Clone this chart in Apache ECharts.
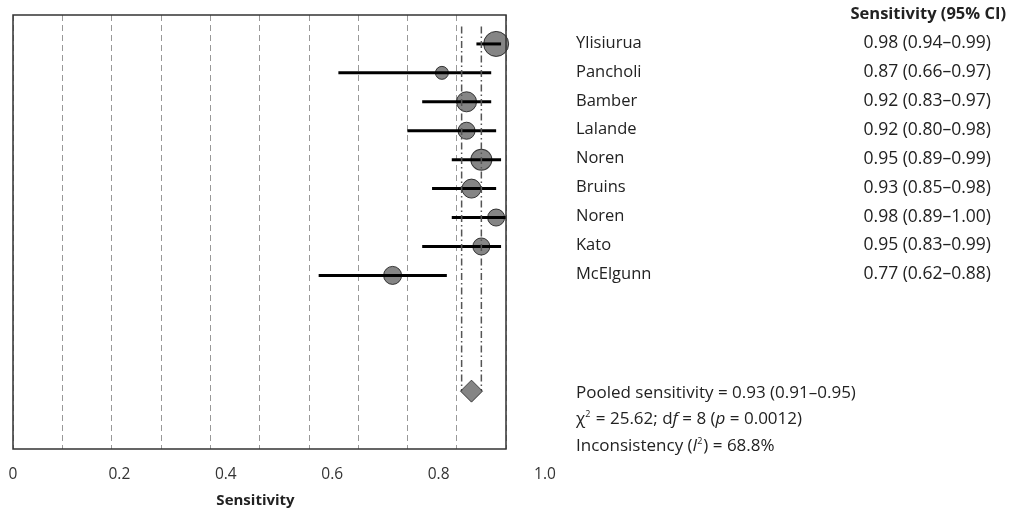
<!DOCTYPE html>
<html><head><meta charset="utf-8">
<script src="https://cdn.jsdelivr.net/npm/echarts@6/dist/echarts.min.js"></script>
<style>html,body{margin:0;padding:0;background:#fff}#c{width:1012px;height:513px}</style>
</head><body><div id="c"></div>
<script>
var studies = ['Ylisiurua','Pancholi','Bamber','Lalande','Noren','Bruins','Noren','Kato','McElgunn'];
var sens = [0.98,0.87,0.92,0.92,0.95,0.93,0.98,0.95,0.77];
var ciLow = [0.94,0.66,0.83,0.80,0.89,0.85,0.89,0.83,0.62];
var ciHigh = [0.99,0.97,0.97,0.98,0.99,0.98,1.00,0.99,0.88];
var weights = [19.6,5.3,12.6,9.1,13.8,11.3,9.1,9.1,10.2];
var pooledEst = 0.93, pooledLow = 0.91, pooledHigh = 0.95;
var tickLabels = [0,0.2,0.4,0.6,0.8,1.0];
var chiSq = '25.62', df = '8', pVal = '0.0012', iSq = '68.8%';

var FONT = '"Open Sans", "Noto Sans", sans-serif';
var chart = echarts.init(document.getElementById('c'), null, {renderer:'canvas'});
var rows = studies.map(function(s,i){return i+1;});
var pooledRow = 13;

var ciData = studies.map(function(s,i){return [ciLow[i], ciHigh[i], rows[i]];});
var ptData = studies.map(function(s,i){return [sens[i], rows[i], weights[i]];});

var option = {
  animation:false,
  grid:[
    {left:13, top:15, width:493, height:434, show:true, borderColor:'#333', borderWidth:1.5, backgroundColor:'transparent', z:10, outerBoundsMode:'none', containLabel:false},
    {left:13, top:15, width:532, height:434, show:false, outerBoundsMode:'none', containLabel:false}
  ],
  xAxis:[
    {gridIndex:0, type:'value', min:0, max:1, interval:0.1,
     axisLine:{show:false}, axisTick:{show:false}, axisLabel:{show:false},
     splitLine:{show:true, lineStyle:{color:'#999', type:[6,4], width:1}},
     name:'Sensitivity', nameLocation:'middle', nameGap:44,
     nameTextStyle:{fontFamily:FONT, fontWeight:'bold', fontSize:15, color:'#222', padding:[0,8,0,0]}},
    {gridIndex:1, type:'value', min:0, max:1, interval:0.2,
     axisLine:{show:false}, axisTick:{show:false}, splitLine:{show:false},
     axisLabel:{show:true, margin:18, fontFamily:FONT, fontSize:15.5, color:'#333',
       formatter:function(v){ if(v===0) return '0'; return v.toFixed(1);} }}
  ],
  yAxis:[
    {gridIndex:0, type:'value', min:0, max:15, inverse:true, show:false},
    {gridIndex:1, type:'value', min:0, max:15, inverse:true, show:false}
  ],
  series:[
    {type:'scatter', xAxisIndex:0, yAxisIndex:0, data:ptData, z:3,
     symbol:'circle', symbolSize:function(d){return Math.sqrt(d[2])*5.65;},
     itemStyle:{color:'#666', borderColor:'#111', borderWidth:1}},
    {type:'custom', xAxisIndex:0, yAxisIndex:0, data:ciData, z:4,
     renderItem:function(params, api){
       var a = api.coord([api.value(0), api.value(2)]);
       var b = api.coord([api.value(1), api.value(2)]);
       return {type:'line', shape:{x1:a[0],y1:a[1],x2:b[0],y2:b[1]}, style:{stroke:'#000', lineWidth:3}};
     }},
    {type:'custom', xAxisIndex:0, yAxisIndex:0, data:[[pooledLow],[pooledHigh]], z:5,
     renderItem:function(params, api){
       var a = api.coord([api.value(0), 0.4]);
       var b = api.coord([api.value(0), pooledRow]);
       return {type:'line', shape:{x1:a[0],y1:a[1],x2:b[0],y2:b[1]}, style:{stroke:'#555', lineWidth:1.5, lineDash:[7,3,1.5,3]}};
     }},
    {type:'scatter', xAxisIndex:0, yAxisIndex:0, data:[[pooledEst, pooledRow]], z:6,
     symbol:'diamond', symbolSize:[22,22],
     itemStyle:{color:'#666', borderColor:'#222', borderWidth:1}}
  ]
};
chart.setOption(option);

var g = [];
var TXT = '#222';
var NAMEF = '16.5px '+FONT, VALF = '17.5px '+FONT;
g.push({type:'text', right:6, top:6, style:{text:'Sensitivity (95% CI)', font:'bold 16.5px '+FONT, fill:TXT}});
studies.forEach(function(s,i){
  var y = chart.convertToPixel({xAxisIndex:0, yAxisIndex:0}, [0, rows[i]])[1];
  g.push({type:'text', x:576, y:y-1, style:{text:s, font:NAMEF, fill:TXT, verticalAlign:'middle', align:'left'}});
  var lab = sens[i].toFixed(2)+' ('+ciLow[i].toFixed(2)+'\u2013'+ciHigh[i].toFixed(2)+')';
  g.push({type:'text', x:991, y:y-1, style:{text:lab, font:VALF, fill:TXT, verticalAlign:'middle', align:'right'}});
});
var rich = {sup:{fontSize:9, fontFamily:FONT, fill:TXT, padding:[0,1,9,0]}, it:{fontSize:17, fontStyle:'italic', fontFamily:FONT, fill:TXT}};
g.push({type:'text', x:576, y:393, style:{text:'Pooled sensitivity = '+pooledEst.toFixed(2)+' ('+pooledLow.toFixed(2)+'\u2013'+pooledHigh.toFixed(2)+')', font:'17px '+FONT, fill:TXT, verticalAlign:'middle'}});
g.push({type:'text', x:576, y:419, style:{
  text:'\u03c7{sup|2} = '+chiSq+'; d{it|f} = '+df+' ({it|p} = '+pVal+')',
  font:'17px '+FONT, fill:TXT, verticalAlign:'middle', rich:rich}});
g.push({type:'text', x:576, y:446, style:{
  text:'Inconsistency ({it|I}{sup|2}) = '+iSq,
  font:'17px '+FONT, fill:TXT, verticalAlign:'middle', rich:rich}});
chart.setOption({graphic:g});
</script></body></html>
